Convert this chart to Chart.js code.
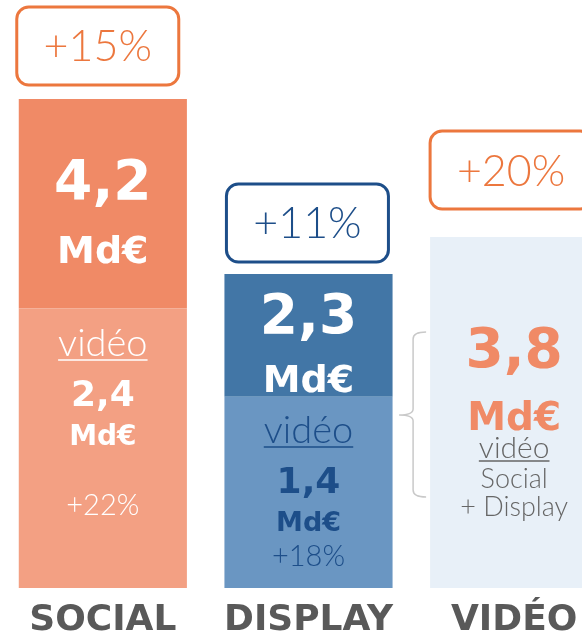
<!DOCTYPE html>
<html>
<head>
<meta charset="utf-8">
<script src="https://cdn.jsdelivr.net/npm/chart.js@4"></script>
<style>
  html, body { margin: 0; padding: 0; background: #fff; overflow: hidden; width: 582px; height: 636px; }
  canvas { display: block; }
</style>
</head>
<body>
<canvas id="c" width="617" height="636"></canvas>
<script>
// ---------- DATA ----------
const categories   = ['SOCIAL', 'DISPLAY', 'VIDÉO'];
const totalSpend   = [4.2, 2.3, 3.8];          // Md€
const videoSpend   = [2.4, 1.4, 3.8];          // Md€ (vidéo part)
const otherSpend   = [1.8, 0.9, 0];            // Md€ (non-vidéo part)
const totalGrowth  = ['+15%', '+11%', '+20%'];
const videoGrowth  = ['+22%', '+18%', ''];
const unitLabel    = 'Md€';
const videoLabel   = 'vidéo';
const videoSources = ['Social', '+ Display'];

// ---------- STYLE ----------
const videoColors = ['#F3A083', '#6A96C2', '#E8F0F8'];
const otherColors = ['#F08A66', '#4276A6', '#E8F0F8'];
const boxColors   = ['#EC773E', '#1D4E89', '#EC773E'];
const axisMax     = [5.05, 4.307, 6.366];   // per-column scale (infographic, not shared)
const BOLD  = '"DejaVu Sans", sans-serif';
const LIGHT = 'Lato, "Open Sans", sans-serif';

const fmt = v => v.toFixed(1).replace('.', ',');
const onlyAt = (i, v) => categories.map((_, j) => (j === i ? v : null));

const datasets = [];
const segIdx = [];
categories.forEach((c, i) => {
  const s = { video: datasets.length, other: null };
  datasets.push({ label: c + ' vidéo', data: onlyAt(i, videoSpend[i]), backgroundColor: videoColors[i], yAxisID: 'y' + i, stack: 's' });
  if (otherSpend[i] > 0) {
    s.other = datasets.length;
    datasets.push({ label: c + ' hors vidéo', data: onlyAt(i, otherSpend[i]), backgroundColor: otherColors[i], yAxisID: 'y' + i, stack: 's' });
  }
  segIdx.push(s);
});

// per-column text layout (top items: offset from segment top; bottom items: offset from bar base unless fromTop)
const LAYOUT = [
  { gap: 14, boxDx: -2,
    top:    [{ t: 'total', dy: 100, size: 55, bold: true, color: '#fff' },
             { t: 'unit',  dy: 164, size: 38, bold: true, color: '#fff' }],
    bottom: [{ t: 'vlabel', dy: -232, size: 38, bold: false, color: '#fff', ul: 4 },
             { t: 'video',  dy: -182, size: 36, bold: true, color: '#fff' },
             { t: 'unit',   dy: -143, size: 28, bold: true, color: '#fff' },
             { t: 'vgrowth',dy: -73,  size: 29, bold: false, color: '#fff' }] },
  { gap: 12, boxDx: 2,
    top:    [{ t: 'total', dy: 59,  size: 55, bold: true, color: '#fff' },
             { t: 'unit',  dy: 118, size: 38, bold: true, color: '#fff' }],
    bottom: [{ t: 'vlabel', dy: -145, size: 38, bold: false, color: '#1D4E89', ul: 4 },
             { t: 'video',  dy: -95,  size: 36, bold: true, color: '#1D4E89' },
             { t: 'unit',   dy: -57,  size: 27, bold: true, color: '#1D4E89' },
             { t: 'vgrowth',dy: -22,  size: 29, bold: false, color: '#1D4E89' }] },
  { gap: 28, boxDx: 0,
    top: [],
    bottom: [{ t: 'video',  dy: 130, fromTop: true, size: 55, bold: true, color: '#F08A66' },
             { t: 'unit',   dy: 193, fromTop: true, size: 39, bold: true, color: '#F08A66' },
             { t: 'vlabel', dy: 221, fromTop: true, size: 30, bold: false, color: '#666', ul: 3 },
             { t: 'src0',   dy: 251, fromTop: true, size: 27, bold: false, color: '#666' },
             { t: 'src1',   dy: 279, fromTop: true, size: 27, bold: false, color: '#666' }] }
];

function textFor(key, i) {
  switch (key) {
    case 'total': return fmt(totalSpend[i]);
    case 'video': return fmt(videoSpend[i]);
    case 'unit': return unitLabel;
    case 'vlabel': return videoLabel;
    case 'vgrowth': return videoGrowth[i];
    case 'src0': return videoSources[0];
    case 'src1': return videoSources[1];
  }
  return '';
}

function drawText(ctx, s, x, y, item) {
  ctx.font = (item.bold ? 'bold ' : '300 ') + item.size + 'px ' + (item.bold ? BOLD : LIGHT);
  ctx.fillStyle = item.color;
  ctx.textAlign = 'center';
  ctx.textBaseline = 'alphabetic';
  ctx.fillText(s, x, y);
  if (item.ul) {
    const w = ctx.measureText(s).width;
    ctx.strokeStyle = item.color;
    ctx.lineWidth = 1.5;
    ctx.beginPath();
    ctx.moveTo(x - w / 2, y + item.ul);
    ctx.lineTo(x + w / 2, y + item.ul);
    ctx.stroke();
  }
}

const annotPlugin = {
  id: 'annot',
  afterDatasetsDraw(chart) {
    const ctx = chart.ctx;
    ctx.save();
    categories.forEach((c, i) => {
      const vEl = chart.getDatasetMeta(segIdx[i].video).data[i];
      const oEl = segIdx[i].other != null ? chart.getDatasetMeta(segIdx[i].other).data[i] : null;
      const L = LAYOUT[i];
      const top = oEl ? oEl.y : vEl.y;
      const left = vEl.x - vEl.width / 2;
      const cx = vEl.x;

      // growth box
      const bw = 162, bh = 78;
      const bx = left + L.boxDx, by = top - L.gap - bh;
      ctx.beginPath();
      ctx.roundRect(bx, by, bw, bh, 12);
      ctx.fillStyle = '#fff';
      ctx.fill();
      ctx.lineWidth = 3;
      ctx.strokeStyle = boxColors[i];
      ctx.stroke();
      drawText(ctx, totalGrowth[i], bx + bw / 2, by + bh / 2 + 15.5,
               { size: 43, bold: false, color: boxColors[i] });

      // texts in segments
      if (oEl) L.top.forEach(it => drawText(ctx, textFor(it.t, i), cx, oEl.y + it.dy, it));
      L.bottom.forEach(it => drawText(ctx, textFor(it.t, i), cx, (it.fromTop ? vEl.y : vEl.base) + it.dy, it));

      // brace before the vidéo column
      if (i === categories.length - 1) {
        const T = vEl.y;
        ctx.strokeStyle = '#C9C9C9';
        ctx.lineWidth = 1.5;
        ctx.beginPath();
        ctx.moveTo(left - 4, T + 95);
        ctx.quadraticCurveTo(left - 17, T + 95, left - 17, T + 102);
        ctx.lineTo(left - 17, T + 172);
        ctx.quadraticCurveTo(left - 17, T + 178, left - 31, T + 178);
        ctx.quadraticCurveTo(left - 17, T + 178, left - 17, T + 184);
        ctx.lineTo(left - 17, T + 253);
        ctx.quadraticCurveTo(left - 17, T + 260, left - 4, T + 260);
        ctx.stroke();
      }
    });
    ctx.restore();
  }
};

const scales = {
  x: {
    stacked: true,
    offset: true,
    grid: { display: false, drawTicks: false },
    border: { display: false },
    ticks: {
      color: '#595959',
      padding: 11,
      autoSkip: false,
      maxRotation: 0,
      font: { family: 'DejaVu Sans', weight: 'bold', size: 36 }
    },
    afterFit: s => { s.height = 48; }
  }
};
categories.forEach((c, i) => {
  scales['y' + i] = { display: false, stacked: true, min: 0, max: axisMax[i], bounds: 'data' };
});

new Chart(document.getElementById('c'), {
  type: 'bar',
  data: { labels: categories, datasets },
  options: {
    responsive: false,
    animation: false,
    layout: { padding: 0 },
    datasets: { bar: { barPercentage: 0.8175, categoryPercentage: 1, borderWidth: 0 } },
    plugins: { legend: { display: false }, tooltip: { enabled: false } },
    scales
  },
  plugins: [annotPlugin]
});
</script>
</body>
</html>
